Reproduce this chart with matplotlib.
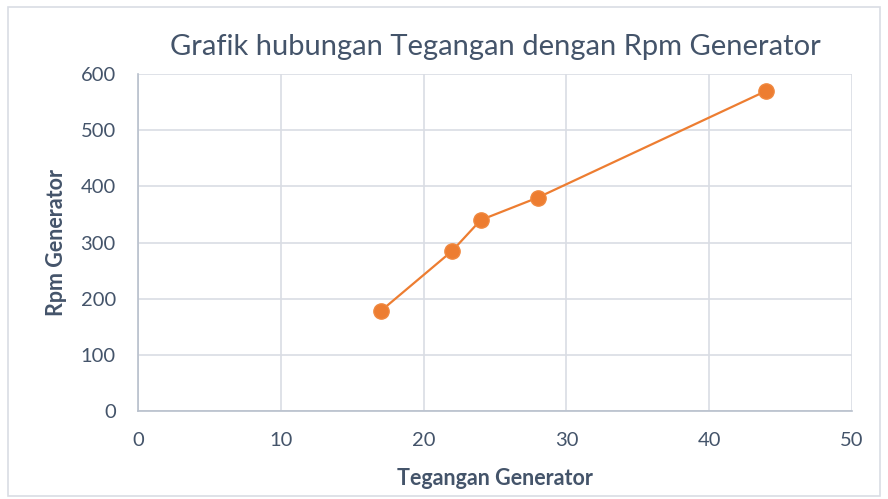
import matplotlib.pyplot as plt
from matplotlib.patches import Rectangle

plt.rcParams['font.family'] = ['Lato', 'DejaVu Sans']

tegangan = [17, 22, 24, 28, 44]
rpm = [178, 285, 340, 380, 570]
x_ticks = [0, 10, 20, 30, 40, 50]
y_ticks = [0, 100, 200, 300, 400, 500, 600]

text_col = "#44546A"
grid_col = "#D9DDE4"
orange = "#ED7D31"

fig = plt.figure(figsize=(8.88, 4.99), dpi=100)
fig.patches.append(Rectangle((8/888, 1 - 496/499), 872/888, 489/499,
                             transform=fig.transFigure, fill=False,
                             edgecolor=grid_col, linewidth=1.2))
ax = fig.add_axes([138/888, 1 - 411/499, 714/888, 337/499])

ax.plot(tegangan, rpm, color=orange, linewidth=1.6, marker="o",
        markersize=11, markerfacecolor=orange, markeredgecolor="#F0883F", zorder=3)

ax.set_xlim(0, 50)
ax.set_ylim(0, 600)
ax.set_xticks(x_ticks)
ax.set_yticks(y_ticks)
ax.grid(True, color=grid_col, linewidth=1.2)
ax.set_axisbelow(True)
for s in ["top", "right"]:
    ax.spines[s].set_visible(False)
for s in ["left", "bottom"]:
    ax.spines[s].set_color("#B8C0CC")
    ax.spines[s].set_linewidth(1.2)
ax.tick_params(length=0, labelsize=14.5, labelcolor=text_col)
ax.tick_params(axis="x", pad=15)
ax.tick_params(axis="y", pad=16)

ax.set_title("Grafik hubungan Tegangan dengan Rpm Generator", fontsize=21,
             color=text_col, pad=14)
ax.set_xlabel("Tegangan Generator", fontsize=15.5, fontweight="bold",
              color=text_col, labelpad=14)
ax.set_ylabel("Rpm Generator", fontsize=15.5, fontweight="bold",
              color=text_col, labelpad=10)

fig.savefig("out.png", dpi=100)
